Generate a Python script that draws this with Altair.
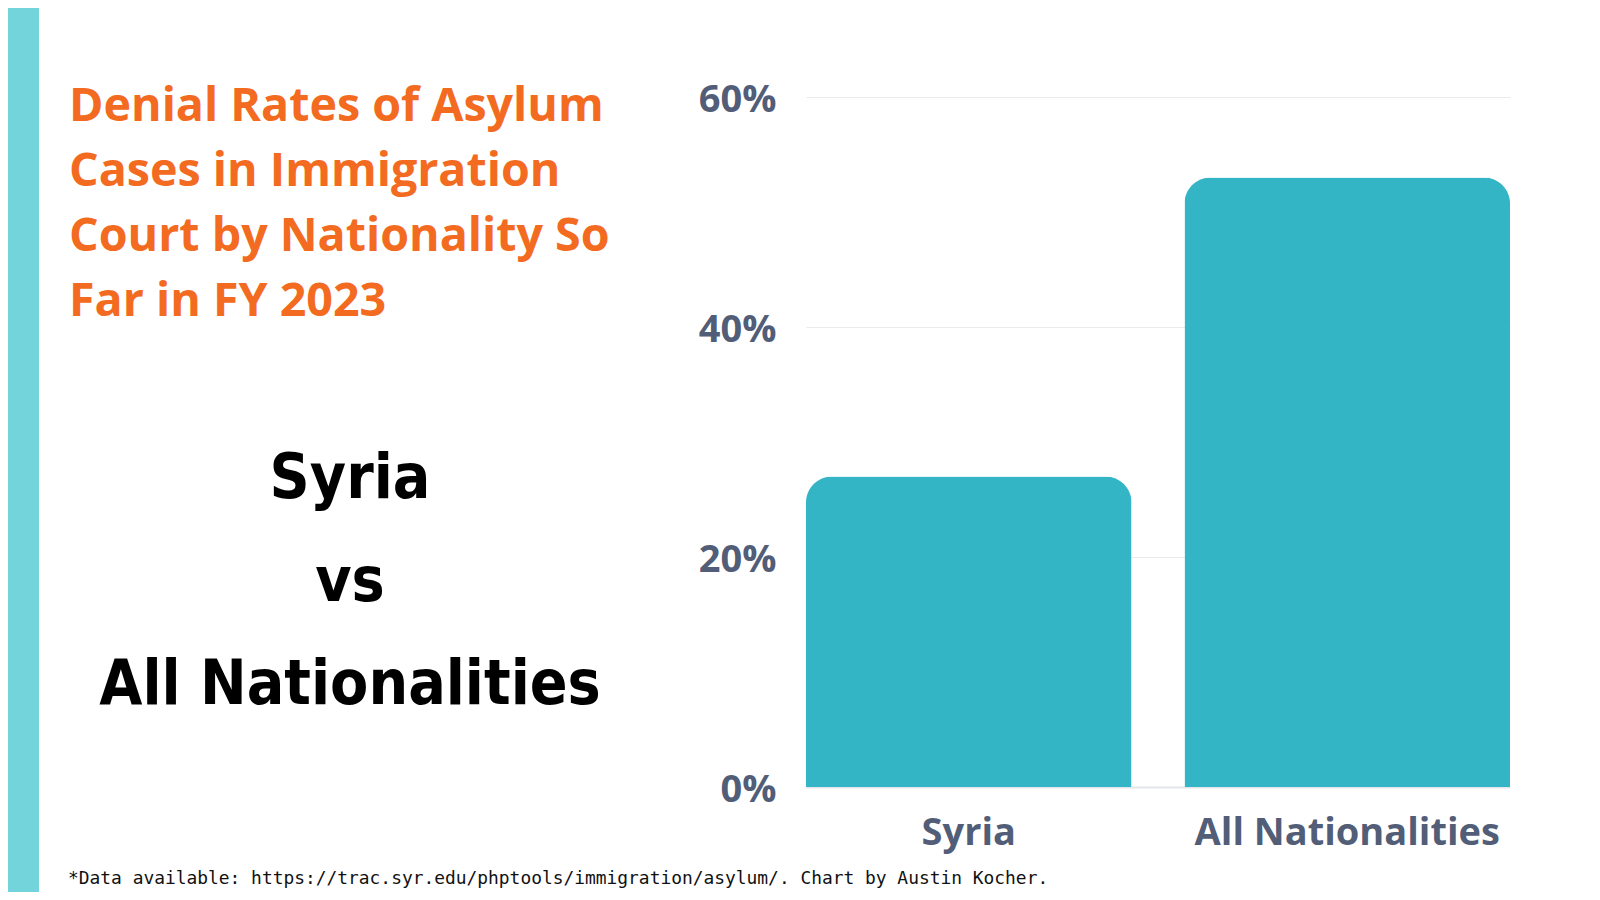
import altair as alt
import pandas as pd

categories = ["Syria", "All Nationalities"]
denial_rates = [0.27, 0.53]
title_lines = ["Denial Rates of Asylum", "Cases in Immigration", "Court by Nationality So", "Far in FY 2023"]
headline_lines = ["Syria", "vs", "All Nationalities"]
footnote = "*Data available: https://trac.syr.edu/phptools/immigration/asylum/. Chart by Austin Kocher."
y_ticks = [0, 0.2, 0.4, 0.6]

df = pd.DataFrame({"nationality": categories, "rate": denial_rates})

PW, PH = 704, 690

bars = alt.Chart(df).mark_bar(
    color="#33b5c6", cornerRadiusTopLeft=26, cornerRadiusTopRight=26
).encode(
    x=alt.X("nationality:N", sort=categories,
            scale=alt.Scale(paddingInner=0.14, paddingOuter=0),
            axis=alt.Axis(title=None, labelAngle=0, ticks=False, domain=True,
                          domainColor="#e3e5ea", domainWidth=2,
                          labelFont="Open Sans", labelFontWeight="bold",
                          labelFontSize=38, labelColor="#525d78", labelLimit=0,
                          labelPadding=27, grid=False)),
    y=alt.Y("rate:Q", scale=alt.Scale(domain=[0, 0.6], nice=False),
            axis=alt.Axis(title=None, values=y_ticks, format=".0%", ticks=False,
                          domain=False, grid=True, gridColor="#ebebeb",
                          labelFont="Open Sans", labelFontWeight="bold",
                          labelFontSize=38, labelColor="#525d78",
                          labelOffset=3, labelPadding=30)),
)

stripe = alt.Chart(pd.DataFrame({"k": [0]})).mark_rect(color="#74d4dc").encode(
    x=alt.value(-806), x2=alt.value(-767), y=alt.value(-100), y2=alt.value(820)
)

title = alt.Chart(pd.DataFrame({"t": ["\n".join(title_lines)]})).mark_text(
    font="Open Sans", fontWeight="bold", fontSize=46.6, color="#f36b21",
    align="left", baseline="alphabetic", lineBreak="\n", lineHeight=65
).encode(text="t:N", x=alt.value(-737), y=alt.value(24))

headline = alt.Chart(pd.DataFrame({"t": ["\n".join(headline_lines)]})).mark_text(
    font="DejaVu Sans Condensed", fontWeight="bold", fontSize=62, color="#000000",
    align="center", baseline="alphabetic", lineBreak="\n", lineHeight=103
).encode(text="t:N", x=alt.value(-456), y=alt.value(401))

foot = alt.Chart(pd.DataFrame({"t": [footnote]})).mark_text(
    font="DejaVu Sans Mono", fontSize=17.9, color="#111111",
    align="left", baseline="alphabetic"
).encode(text="t:N", x=alt.value(-738), y=alt.value(787))

chart = alt.layer(stripe, bars, title, headline, foot).properties(
    width=PW, height=PH,
    autosize="none",
    padding={"left": 798, "top": 89, "right": 82, "bottom": 105},
    background="white",
).configure_view(stroke=None)

chart.save("out.html", embed_options={"renderer": "svg", "actions": False})
